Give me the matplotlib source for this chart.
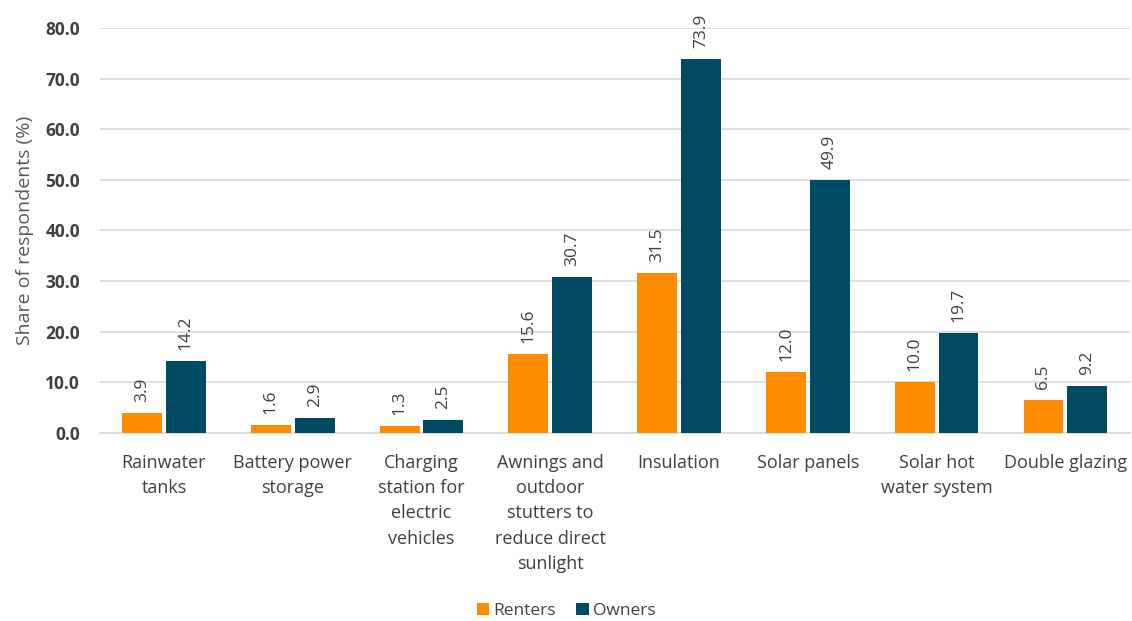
import numpy as np
import matplotlib.pyplot as plt

plt.rcParams['font.family'] = ['Open Sans', 'DejaVu Sans']

categories = ["Rainwater\ntanks", "Battery power\nstorage", "Charging\nstation for\nelectric\nvehicles",
              "Awnings and\noutdoor\nstutters to\nreduce direct\nsunlight", "Insulation", "Solar panels",
              "Solar hot\nwater system", "Double glazing"]
renters = [3.9, 1.6, 1.3, 15.6, 31.5, 12.0, 10.0, 6.5]
owners = [14.2, 2.9, 2.5, 30.7, 73.9, 49.9, 19.7, 9.2]

orange = "#FF8C00"
navy = "#004B63"
text_col = "#404040"

fig = plt.figure(figsize=(11.32, 6.21), dpi=100)
ax = fig.add_axes([0.088, 0.303, 0.91, 0.652])

x = np.arange(len(categories))
w = 0.31
off = 0.17
b1 = ax.bar(x - off, renters, w, color=orange, label="Renters", zorder=3)
b2 = ax.bar(x + off, owners, w, color=navy, label="Owners", zorder=3)

# value labels, rotated, just above each bar
for bars, vals in ((b1, renters), (b2, owners)):
    for bar, v in zip(bars, vals):
        ax.annotate(f"{v:.1f}", (bar.get_x() + bar.get_width() / 2, v),
                    xytext=(0, 8), textcoords="offset points", rotation=90,
                    ha="center", va="bottom", fontsize=12.5, color=text_col)

ax.set_xlim(-0.5, len(categories) - 0.5)
ax.set_ylim(0, 80)
ax.set_yticks(np.arange(0, 81, 10))
ax.set_yticklabels([f"{t:.1f}" for t in np.arange(0, 81, 10)], fontsize=12.5,
                   color=text_col, fontweight="bold")
ax.set_xticks(x)
ax.set_xticklabels(categories, fontsize=13, color=text_col, va="top", linespacing=1.52)
ax.tick_params(axis="both", length=0)
ax.tick_params(axis="x", pad=15)
ax.tick_params(axis="y", pad=14)

ax.grid(axis="y", color="#d9d9d9", linewidth=1.2, zorder=0)
for s in ("top", "right", "left"):
    ax.spines[s].set_visible(False)
ax.spines["bottom"].set_color("#d9d9d9")
ax.spines["bottom"].set_linewidth(1.2)

ax.set_ylabel("Share of respondents (%)", fontsize=14, color="#595959", labelpad=8)

fig.legend(handles=[b1, b2], loc="center", bbox_to_anchor=(0.5, 0.016), ncol=2, frameon=False,
           fontsize=12.5, handlelength=0.7, handleheight=0.7, handletextpad=0.25,
           columnspacing=1.2, labelcolor=text_col)

fig.savefig("out.png", dpi=100)
